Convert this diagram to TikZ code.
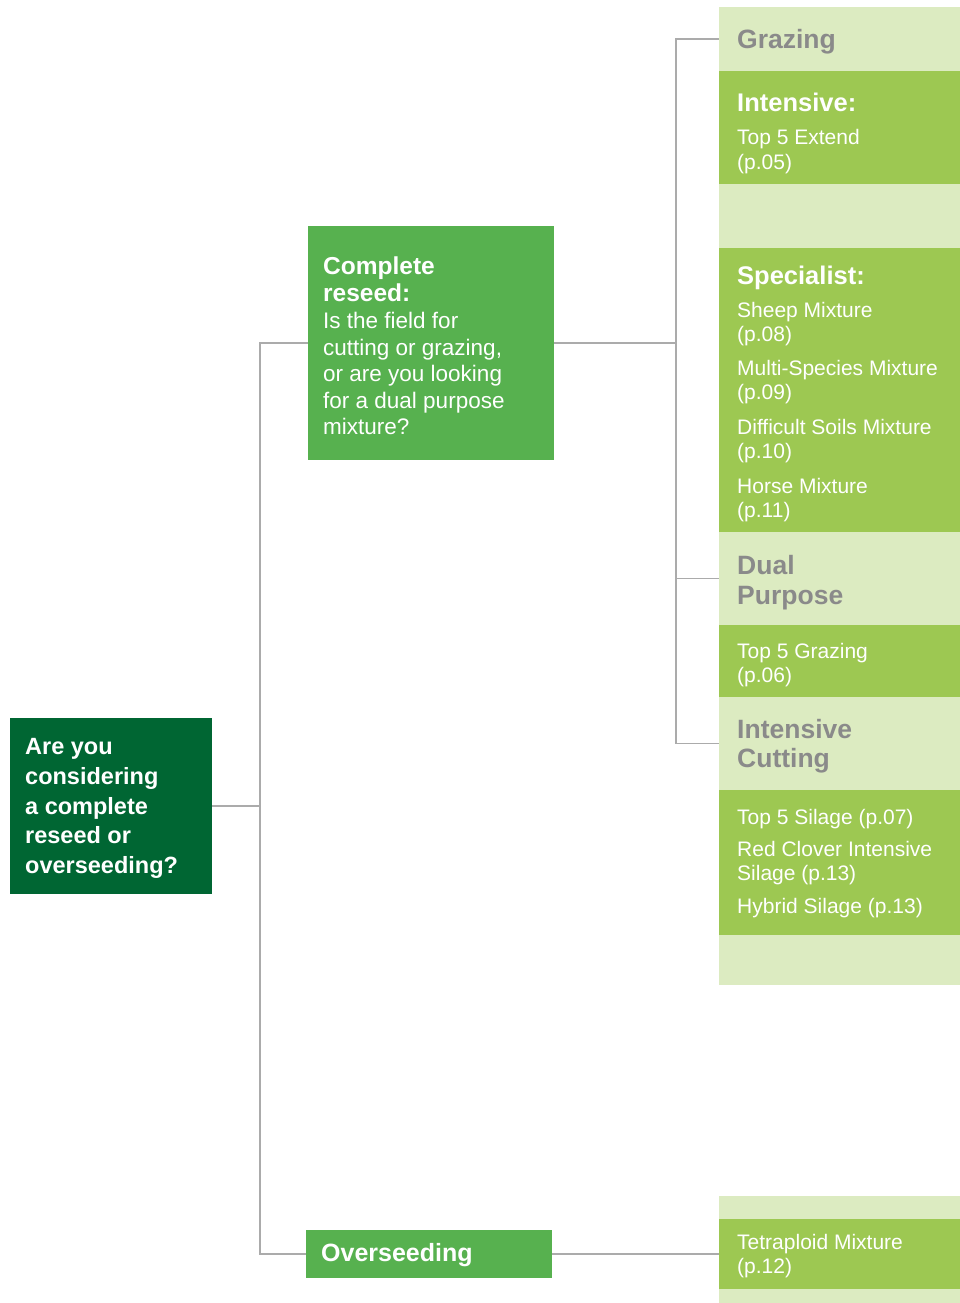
\documentclass[tikz,border=0pt]{standalone}
\usepackage{fontspec}
\setmainfont{Liberation Sans}
\definecolor{lightg}{HTML}{DCEBC1}
\definecolor{midg}{HTML}{9DC852}
\definecolor{btng}{HTML}{57B14F}
\definecolor{darkg}{HTML}{006633}
\definecolor{hdrgray}{HTML}{8A8A8A}
\definecolor{linegray}{HTML}{ABABAB}
\begin{document}
\begin{tikzpicture}[x=1pt,y=-1pt,
  blk/.style={anchor=north west, inner sep=0, outer sep=0, draw=none},
  conn/.style={draw=linegray, line width=1.5pt},
  rtxt/.style={anchor=base west, inner sep=0, text=white, font=\fontsize{21}{24}\selectfont},
  rbold/.style={anchor=base west, inner sep=0, text=white, font=\fontsize{25.5}{30}\selectfont\bfseries},
  rhdr/.style={anchor=base west, inner sep=0, text=hdrgray, font=\fontsize{26.5}{30}\selectfont\bfseries},
  qtxt/.style={anchor=base west, inner sep=0, text=white, font=\fontsize{23.5}{29}\selectfont\bfseries},
  ctxt/.style={anchor=base west, inner sep=0, text=white, font=\fontsize{22.5}{26}\selectfont},
  cbold/.style={anchor=base west, inner sep=0, text=white, font=\fontsize{24.5}{26}\selectfont\bfseries}]
\useasboundingbox (0,0) rectangle (960,1303);
\fill[white] (0,0) rectangle (960,1303);

% right column backgrounds
\node[blk, fill=lightg, minimum width=241pt, minimum height=978pt] (rbg) at (719,7) {};
\node[blk, fill=lightg, minimum width=241pt, minimum height=64pt] (graz) at (719,7) {};
\node[blk, fill=midg, minimum width=241pt, minimum height=113pt] (inten) at (719,71) {};
\node[blk, fill=midg, minimum width=241pt, minimum height=284pt] (spec) at (719,248) {};
\node[blk, fill=lightg, minimum width=241pt, minimum height=93pt] (dual) at (719,532) {};
\node[blk, fill=midg, minimum width=241pt, minimum height=72pt] (t5g) at (719,625) {};
\node[blk, fill=lightg, minimum width=241pt, minimum height=93pt] (icut) at (719,697) {};
\node[blk, fill=midg, minimum width=241pt, minimum height=145pt] (sil) at (719,790) {};
\node[blk, fill=lightg, minimum width=241pt, minimum height=107pt] (obg) at (719,1196) {};
\node[blk, fill=midg, minimum width=241pt, minimum height=70pt] (tetra) at (719,1219) {};

% left boxes
\node[blk, fill=darkg, minimum width=202pt, minimum height=176pt] (q) at (10,718) {};
\node[blk, fill=btng, minimum width=246pt, minimum height=234pt] (cr) at (308,226) {};
\node[blk, fill=btng, minimum width=246pt, minimum height=48pt] (ov) at (306,1230) {};

% connectors
\coordinate (j0) at (260,806);
\coordinate (j1) at (676,343);
\draw[conn] (q.east) -- (j0) |- (cr.west);
\draw[conn] (j0) |- (ov.west);
\draw[conn] (cr.east) -- (j1);
\draw[conn] (j1) |- (graz.west);
\draw[conn] (j1) |- (dual.west);
\draw[conn] (j1) |- (icut.west);
\draw[conn] (ov.east) -- (tetra.west);

% question text
\node[qtxt] (q1) at (25,754) {Are you};
\node[qtxt] (q2) at (25,784) {considering};
\node[qtxt] (q3) at (25,814) {a complete};
\node[qtxt] (q4) at (25,843) {reseed or};
\node[qtxt] (q5) at (25,873) {overseeding?};

% complete reseed text
\node[cbold] (c1) at (323,274) {Complete};
\node[cbold] (c2) at (323,301) {reseed:};
\node[ctxt] (c3) at (323,328) {Is the field for};
\node[ctxt] (c4) at (323,355) {cutting or grazing,};
\node[ctxt] (c5) at (323,381) {or are you looking};
\node[ctxt] (c6) at (323,408) {for a dual purpose};
\node[ctxt] (c7) at (323,434) {mixture?};

% overseeding
\node[anchor=base west, inner sep=0, text=white, font=\fontsize{25}{30}\selectfont\bfseries] (ovt) at (321,1261) {Overseeding};

% right column text
\node[rhdr] (h1) at (737,49) {Grazing};
\node[rbold] (i1) at (737,112) {Intensive:};
\node[rtxt] (i2) at (737,145) {Top 5 Extend};
\node[rtxt] (i3) at (737,169) {(p.05)};
\node[rbold] (s0) at (737,284) {Specialist:};
\node[rtxt] (s1) at (737,317) {Sheep Mixture};
\node[rtxt] (s2) at (737,341) {(p.08)};
\node[rtxt] (s3) at (737,375) {Multi-Species Mixture};
\node[rtxt] (s4) at (737,399) {(p.09)};
\node[rtxt] (s5) at (737,434) {Difficult Soils Mixture};
\node[rtxt] (s6) at (737,458) {(p.10)};
\node[rtxt] (s7) at (737,493) {Horse Mixture};
\node[rtxt] (s8) at (737,517) {(p.11)};
\node[rhdr] (d1) at (737,574) {Dual};
\node[rhdr] (d2) at (737,604) {Purpose};
\node[rtxt] (g1) at (737,658) {Top 5 Grazing};
\node[rtxt] (g2) at (737,682) {(p.06)};
\node[rhdr] (k1) at (737,738) {Intensive};
\node[rhdr] (k2) at (737,767) {Cutting};
\node[rtxt] (l1) at (737,824) {Top 5 Silage (p.07)};
\node[rtxt] (l2) at (737,856) {Red Clover Intensive};
\node[rtxt] (l3) at (737,880) {Silage (p.13)};
\node[rtxt] (l4) at (737,913) {Hybrid Silage (p.13)};
\node[rtxt] (t1) at (737,1249) {Tetraploid Mixture};
\node[rtxt] (t2) at (737,1273) {(p.12)};
\end{tikzpicture}
\end{document}
